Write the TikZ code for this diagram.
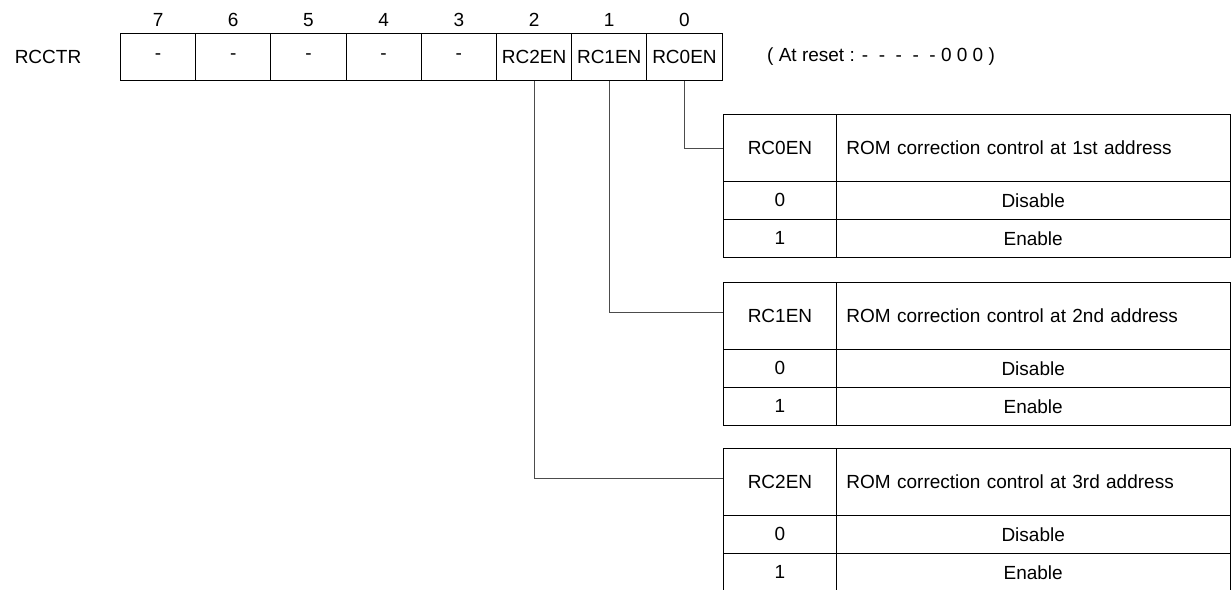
\documentclass[tikz,border=0pt]{standalone}
\usepackage{fontspec}
\setmainfont{Liberation Sans}
\begin{document}
\begin{tikzpicture}[x=1pt,y=-1pt,
  lbl/.style={font=\fontsize{19}{22}\selectfont, inner sep=0pt},
  reg/.style={draw, line width=0.9pt, minimum width=75.2pt, minimum height=47pt, inner sep=0pt, anchor=north west, font=\fontsize{19}{22}\selectfont},
  tcell/.style={draw, line width=0.9pt, inner sep=0pt, anchor=north west, font=\fontsize{19}{22}\selectfont},
  hdrtext/.style={tcell, minimum height=67pt, text width=373.5pt, inner xsep=10pt, align=left},
  conn/.style={draw=black!70, line width=0.9pt}
]
\useasboundingbox (0,0) rectangle (1231,589);

% register
\node[lbl] (name) at (48,57) {RCCTR};
\node[reg] (c7) at (120,33) {-};
\node[reg] (c6) at (195.2,33) {-};
\node[reg] (c5) at (270.4,33) {-};
\node[reg] (c4) at (345.6,33) {-};
\node[reg] (c3) at (420.8,33) {-};
\node[reg] (c2) at (496,33) {RC2EN};
\node[reg] (c1) at (571.2,33) {RC1EN};
\node[reg] (c0) at (646.4,33) {RC0EN};
\foreach \i in {7,6,5,4,3,2,1,0}{
  \node[lbl] (b\i) at ([yshift=13pt]c\i.north) {\i};
}
\node[lbl, anchor=west] (reset) at (767,57) {( At reset : -\ \ -\ \ -\ \ -\ \ - 0 0 0 )};

% tables
\foreach \t/\top/\bitname/\desc in {1/114/RC0EN/ROM correction control at 1st address,
                                    2/282/RC1EN/ROM correction control at 2nd address,
                                    3/448/RC2EN/ROM correction control at 3rd address}{
  \node[tcell, minimum width=113pt, minimum height=67pt] (t\t n) at (723,\top) {\bitname};
  \node[hdrtext] (t\t d) at (836,\top) {\desc};
  \node[tcell, minimum width=113pt, minimum height=38pt] (t\t a) at (723,\top+67) {0};
  \node[tcell, minimum width=393.5pt, minimum height=38pt] (t\t b) at (836,\top+67) {Disable};
  \node[tcell, minimum width=113pt, minimum height=38pt] (t\t c) at (723,\top+105) {1};
  \node[tcell, minimum width=393.5pt, minimum height=38pt] (t\t e) at (836,\top+105) {Enable};
}

% connectors
\draw[conn] (c0.south) |- ([yshift=0pt]t1n.west);
\draw[conn] (c1.south) |- ([yshift=3.5pt]t2n.west);
\draw[conn] (c2.south) |- ([yshift=3.5pt]t3n.west);
\end{tikzpicture}
\end{document}
